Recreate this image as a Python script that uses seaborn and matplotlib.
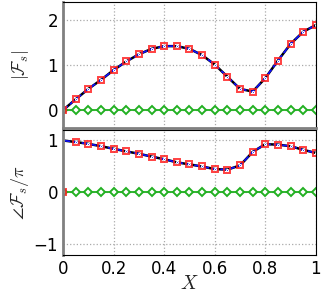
import numpy as np
import pandas as pd
import matplotlib
matplotlib.use("Agg")
import matplotlib.pyplot as plt
import seaborn as sns

# sample positions and read-off values
x = [0.0, 0.05, 0.1, 0.15, 0.2, 0.25, 0.3, 0.35, 0.4, 0.45, 0.5,
     0.55, 0.6, 0.65, 0.7, 0.75, 0.8, 0.85, 0.9, 0.95, 1.0]
mag = [0.0, 0.24, 0.47, 0.67, 0.89, 1.08, 1.24, 1.36, 1.42, 1.42, 1.36,
       1.22, 1.01, 0.74, 0.47, 0.41, 0.71, 1.10, 1.47, 1.74, 1.89]
phase_line = [1.0, 0.97, 0.935, 0.89, 0.84, 0.79, 0.745, 0.69, 0.64, 0.58, 0.54,
              0.50, 0.45, 0.44, 0.52, 0.78, 0.93, 0.92, 0.89, 0.82, 0.76]
phase_pts = [0.0] + phase_line[1:]
blue_x = [0.0] + x
blue_phase = [0.0] + phase_line
zero = [0.0] * len(x)

sns.set_style("white")
plt.rcParams['font.family'] = ['DejaVu Sans']
plt.rcParams['mathtext.fontset'] = 'cm'

fig = plt.figure(figsize=(3.27, 2.95), dpi=100)
ax1 = fig.add_axes([0.193, 0.566, 0.773, 0.427])
ax2 = fig.add_axes([0.193, 0.136, 0.773, 0.423])

red = '#ff2020'
green = '#22b022'


def draw(ax, xl, yl, bx, by, px, py):
    sns.lineplot(x=px, y=zero, ax=ax, color=green, lw=1.3, marker='D', ms=4.3,
                 mfc='white', mec=green, mew=1.4, estimator=None, sort=False)
    sns.lineplot(x=xl, y=yl, ax=ax, color='black', lw=1.8, estimator=None, sort=False)
    sns.lineplot(x=bx, y=by, ax=ax, color='#1010ff', lw=1.2, ls='--',
                 marker='.', ms=3, estimator=None, sort=False)
    sns.lineplot(x=px, y=py, ax=ax, color='none', marker='s', ms=5,
                 mfc='none', mec=red, mew=1.4, alpha=0.85, estimator=None, sort=False)
    ax.set_xlim(0, 1)
    ax.set_xticks([0, 0.2, 0.4, 0.6, 0.8, 1.0])
    ax.grid(True, ls=':', color='#aaaaaa', lw=0.9)
    ax.tick_params(direction='in', length=3, labelsize=12, colors='black')
    for s in ['top', 'right', 'bottom']:
        ax.spines[s].set_color('black')
        ax.spines[s].set_linewidth(0.8)
    ax.spines['left'].set_color('#808080')
    ax.spines['left'].set_linewidth(2)


draw(ax1, x, mag, x, mag, x, mag)
ax1.set_ylim(-0.4, 2.4)
ax1.set_yticks([0, 1, 2])
ax1.set_xticklabels([])
ax1.spines['bottom'].set_color('#808080')
ax1.spines['bottom'].set_linewidth(2)
ax1.set_ylabel(r'$|\mathcal{F}_s|$', fontsize=13, labelpad=12)

draw(ax2, x, phase_line, blue_x, blue_phase, x, phase_pts)
ax2.set_ylim(-1.2, 1.2)
ax2.set_yticks([-1, 0, 1])
ax2.set_yticklabels(['\u22121', '0', '1'])
ax2.set_xticklabels(['0', '0.2', '0.4', '0.6', '0.8', '1'])
ax2.set_ylabel(r'$\angle\mathcal{F}_s/\pi$', fontsize=13, labelpad=2)
ax2.set_xlabel(r'$X$', fontsize=14, labelpad=-3)

fig.savefig('out.png', dpi=100)
